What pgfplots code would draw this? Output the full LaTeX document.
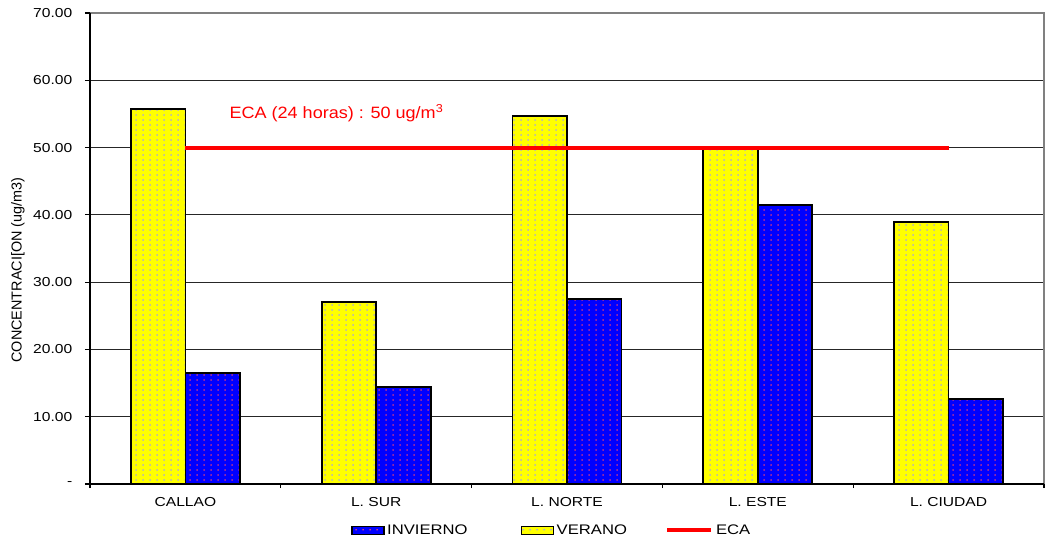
\documentclass[border=0pt]{standalone}
\usepackage{fontspec}
\setmainfont{Liberation Sans}[FakeStretch=1.2]
\newfontfamily\ecafont{Liberation Sans}[FakeStretch=1.1]
\newfontfamily\labelfont{Liberation Sans}
\usepackage{pgfplots}
\pgfplotsset{compat=1.18}
\usetikzlibrary{patterns.meta}
\usepackage{pgfplotstable}

\definecolor{verano}{RGB}{255,255,0}
\definecolor{invierno}{RGB}{0,0,255}
\definecolor{dotsY}{RGB}{165,165,225}
\definecolor{dotsB}{RGB}{210,60,130}
\definecolor{eca}{RGB}{255,0,0}

% small square dots used as bar texture
\pgfdeclarepattern{
  name=bardots,
  type=uncolored,
  bottom left={\pgfpoint{0pt}{0pt}},
  top right={\pgfpoint{5pt}{3.75pt}},
  tile size={\pgfpoint{5pt}{3.75pt}},
  code={\pgfpathrectangle{\pgfpoint{1.9pt}{1.3pt}}{\pgfpoint{1.1pt}{1.1pt}}\pgfusepath{fill}}
}

\pgfplotsset{
  barleg/.style={legend image code/.code={\draw[##1, line width=0.8pt] (0pt,-3pt) rectangle (24pt,3pt);}},
  lineleg/.style={legend image code/.code={\draw[##1] (0pt,0pt) -- (33pt,0pt);}},
}

% Concentración media por estación (ug/m3)
\pgfplotstableread{
idx verano invierno
0 55.7 16.5
1 27.0 14.4
2 54.7 27.5
3 49.9 41.5
4 38.9 12.6
}\datos

\begin{document}
\begin{tikzpicture}
\begin{axis}[
  scale only axis, width=715.5pt, height=353.25pt,
  xmin=-0.5, xmax=4.5, ymin=0, ymax=70,
  ybar, bar width=40.9pt,
  axis line style={black!50, line width=0.8pt},
  after end axis/.code={\draw[black, line width=0.9pt] (rel axis cs:0,1) -- (rel axis cs:0,0) -- (rel axis cs:1,0);},
  ymajorgrids, grid style={black!85, line width=0.7pt},
  tick pos=left,
  ytick={0,10,...,60},
  yticklabels={-,10.00,20.00,30.00,40.00,50.00,60.00},
  extra y ticks={70}, extra y tick labels={70.00},
  extra y tick style={grid=none},
  ytick style={black, line width=0.8pt},
  ytick align=outside, major tick length=3.75pt,
  yticklabel style={font=\fontsize{9.75}{11}\selectfont, xshift=-6pt},
  xtick={0,...,4},
  xticklabels={CALLAO, L. SUR, L. NORTE, L. ESTE, L. CIUDAD},
  xtick style={draw=none},
  xticklabel style={font=\fontsize{9.75}{11}\selectfont, yshift=-2.5pt},
  extra x ticks={-0.5,0.5,...,4.5},
  extra x tick labels={},
  extra x tick style={grid=none, xtick style={draw=black, line width=0.8pt}, tick align=outside, major tick length=3pt},
  ylabel={CONCENTRACI[ON (ug/m3)},
  every axis y label/.style={at={([xshift=-54pt]axis description cs:0,0.454)}, rotate=90, anchor=center,
    font=\labelfont\fontsize{10.8}{13}\selectfont},
  legend style={at={(axis description cs:0.4845,-0.098)}, anchor=center, draw=none, fill=none,
    font=\fontsize{10.4}{12}\selectfont, legend columns=3,
    /tikz/column 2/.style={column sep=38pt},
    /tikz/column 4/.style={column sep=26.8pt}},
  legend cell align=left,
  clip=false,
]
\addplot[draw=black, line width=1.3pt, fill=invierno, bar shift=20.45pt,
  postaction={pattern=bardots, pattern color=dotsB}, barleg]
  table[x=idx, y=invierno] {\datos};
\addlegendentry{INVIERNO}
\addplot[draw=black, line width=1.3pt, fill=verano, bar shift=-20.45pt,
  postaction={pattern=bardots, pattern color=dotsY}, barleg]
  table[x=idx, y=verano] {\datos};
\addlegendentry{VERANO}
\addplot[eca, line width=3pt, sharp plot, lineleg]
  coordinates {(0,50) (4,50)};
\addlegendentry{ECA}
\node[anchor=west, text=eca, font=\ecafont\fontsize{12.3}{14}\selectfont, inner sep=0pt]
  at (axis cs:0.23,55.1) {ECA (24 horas) : 50 ug/m\textsuperscript{3}};
\coordinate (O) at (rel axis cs:0,0);
\end{axis}
\pgfresetboundingbox
\path[use as bounding box] ([shift={(-67.5pt,-43.5pt)}]O) rectangle ([shift={(716.25pt,363pt)}]O);
\end{tikzpicture}
\end{document}
